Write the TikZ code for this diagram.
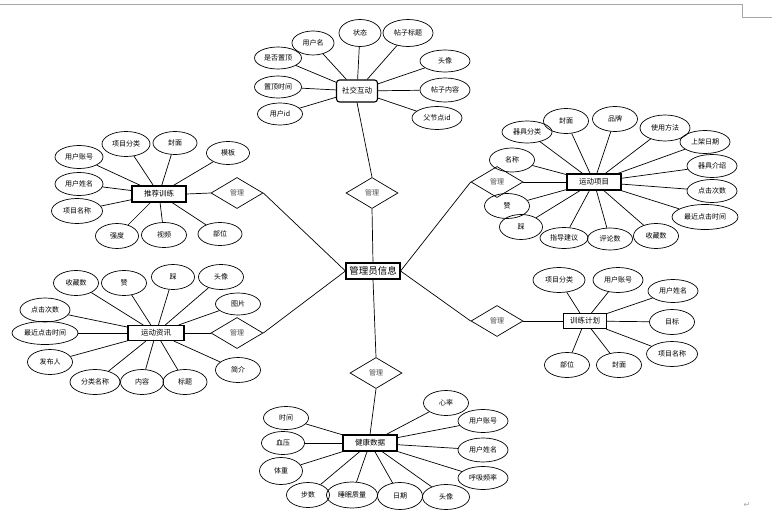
\documentclass[tikz,border=0pt]{standalone}
\usepackage{fontspec}
\setmainfont{Noto Sans CJK SC}
\newfontfamily\symfont{DejaVu Sans}
\usetikzlibrary{shapes.geometric}
\begin{document}
\begin{tikzpicture}[x=1pt,y=-1pt,
  attr/.style={ellipse, draw, line width=0.7pt, minimum width=45pt, minimum height=24pt, inner sep=0pt, font=\fontsize{7}{8}\selectfont},
  ent/.style={rectangle, draw, line width=1.1pt, minimum width=54pt, minimum height=16pt, inner sep=0pt, font=\fontsize{7.5}{8}\selectfont},
  rel/.style={diamond, draw, line width=0.7pt, minimum width=52pt, minimum height=31pt, inner sep=0pt, text=gray!60!black, font=\fontsize{7}{8}\selectfont},
  link/.style={line width=0.7pt},
  pagemark/.style={draw=gray!70, line width=0.8pt}]
\useasboundingbox (0,0) rectangle (782,511);
\fill[white] (0,0) rectangle (782,511);
% page marks
\coordinate (pm1) at (0,4);
\coordinate (pm2) at (742,4);
\coordinate (pm3) at (742,17);
\coordinate (pm4) at (772,17);
\draw[pagemark] (pm1) -- (pm2) -- (pm3) -- (pm4);
\node[text=gray!70, font=\symfont\fontsize{8}{9}\selectfont, inner sep=0pt] (ret) at (747,505) {↵};

% central
\node[ent, minimum width=54pt, minimum height=16pt, font=\fontsize{9.5}{10}\selectfont] (admin) at (373,271) {管理员信息};

% relationships
\node[rel] (d1) at (372,193) {管理};
\node[rel] (d2) at (237,193) {管理};
\node[rel] (d3) at (237,333) {管理};
\node[rel] (d4) at (497,182) {管理};
\node[rel] (d5) at (497,321) {管理};
\node[rel] (d6) at (376,373) {管理};

% entities
\node[ent, rounded corners=3pt, minimum width=41pt, minimum height=22pt] (sj) at (357,91) {社交互动};
\node[ent] (tj) at (159,194) {推荐训练};
\node[ent, minimum width=56pt, minimum height=15pt] (zx) at (156,333) {运动资讯};
\node[ent] (xm) at (594,182) {运动项目};
\node[ent, minimum width=43pt, minimum height=15pt] (jh) at (585,321) {训练计划};
\node[ent] (jk) at (370,443) {健康数据};

% relationship links
\draw[link] (d1.south) -- (admin.north);
\draw[link] (d2.east) -- (admin.west);
\draw[link] (d3.east) -- (admin.west);
\draw[link] (d4.west) -- (admin.east);
\draw[link] (d5.west) -- (admin.east);
\draw[link] (admin.south) -- (d6.north);
\draw[link] (sj.south) -- (d1.north);
\draw[link] (tj.east) -- (d2.west);
\draw[link] (zx.east) -- (d3.west);
\draw[link] (d4.east) -- (xm.west);
\draw[link] (d5.east) -- (jh.west);
\draw[link] (jk.north) -- (d6.south);

% 社交互动 attributes
\node[attr, minimum width=42pt] (s1) at (313,43) {用户名};
\node[attr, minimum width=42pt, minimum height=27pt] (s2) at (360,33) {状态};
\node[attr, minimum width=50pt, minimum height=27pt] (s3) at (408,33) {帖子标题};
\node[attr, minimum width=47pt, minimum height=22pt] (s4) at (278,58) {是否置顶};
\node[attr, minimum width=47pt, minimum height=22pt] (s5) at (278,87) {置顶时间};
\node[attr, minimum width=45pt, minimum height=22pt] (s6) at (280,114) {用户id};
\node[attr, minimum width=50pt, minimum height=22pt] (s7) at (445,61) {头像};
\node[attr, minimum width=50pt] (s8) at (445,90) {帖子内容};
\node[attr, minimum width=50pt, minimum height=23pt] (s9) at (437,118) {父节点id};
\foreach \n in {s1,s2,s3,s4,s5,s6,s7,s8,s9} \draw[link] (\n) -- (sj);

% 运动项目 attributes
\node[attr, minimum width=50pt, minimum height=22pt] (m1) at (527,132) {器具分类};
\node[attr, minimum height=25pt] (m2) at (566,121) {封面};
\node[attr, minimum height=25pt] (m3) at (615,119) {品牌};
\node[attr, minimum width=50pt, minimum height=26pt] (m4) at (665,128) {使用方法};
\node[attr, minimum width=50pt, minimum height=23pt] (m5) at (705,142) {上架日期};
\node[attr, minimum width=50pt, minimum height=23pt] (m6) at (712,166) {器具介绍};
\node[attr, minimum width=50pt, minimum height=23pt] (m7) at (712,191) {点击次数};
\node[attr, minimum width=66pt, minimum height=25pt] (m8) at (705,217) {最近点击时间};
\node[attr, minimum height=25pt] (m9) at (656,236) {收藏数};
\node[attr, minimum height=22pt] (m10) at (610,239) {评论数};
\node[attr, minimum width=48pt, minimum height=21pt] (m11) at (564,238) {指导建议};
\node[attr, minimum width=43pt, minimum height=25pt] (m12) at (521,227) {踩};
\node[attr, minimum height=25pt] (m13) at (507,206) {赞};
\node[attr] (m14) at (512,160) {名称};
\foreach \n in {m1,m2,m3,m4,m5,m6,m7,m8,m9,m10,m11,m12,m13,m14} \draw[link] (\n) -- (xm);

% 推荐训练 attributes
\node[attr, minimum width=48pt, minimum height=25pt] (t1) at (126,144) {项目分类};
\node[attr, minimum width=44pt, minimum height=23pt] (t2) at (175,143) {封面};
\node[attr, minimum width=43pt, minimum height=23pt] (t3) at (228,153) {模板};
\node[attr, minimum width=48pt, minimum height=23pt] (t4) at (79,157) {用户账号};
\node[attr, minimum width=48pt, minimum height=23pt] (t5) at (79,184) {用户姓名};
\node[attr, minimum width=51pt, minimum height=25pt] (t6) at (77,211) {项目名称};
\node[attr, minimum width=43pt, minimum height=25pt] (t7) at (117,236) {强度};
\node[attr, minimum height=25pt] (t8) at (164,235) {视频};
\node[attr, minimum width=44pt, minimum height=23pt] (t9) at (220,234) {部位};
\foreach \n in {t1,t2,t3,t4,t5,t6,t7,t8,t9} \draw[link] (\n) -- (tj);

% 运动资讯 attributes
\node[attr, minimum height=25pt] (z1) at (76,283) {收藏数};
\node[attr, minimum height=25pt] (z2) at (124,283) {赞};
\node[attr, minimum width=43pt, minimum height=25pt] (z3) at (173,277) {踩};
\node[attr, minimum height=25pt] (z4) at (221,277) {头像};
\node[attr, minimum height=22pt] (z5) at (238,304) {图片};
\node[attr, minimum width=50pt] (z6) at (45,310) {点击次数};
\node[attr, minimum width=66pt, minimum height=23pt] (z7) at (45,333) {最近点击时间};
\node[attr, minimum height=25pt] (z8) at (50,362) {发布人};
\node[attr, minimum height=25pt] (z9) at (238,370) {简介};
\node[attr, minimum width=50pt, minimum height=25pt] (z10) at (95,382) {分类名称};
\node[attr, minimum width=43pt, minimum height=25pt] (z11) at (142,382) {内容};
\node[attr, minimum width=44pt, minimum height=25pt] (z12) at (185,382) {标题};
\foreach \n in {z1,z2,z3,z4,z5,z6,z7,z8,z9,z10,z11,z12} \draw[link] (\n) -- (zx);

% 训练计划 attributes
\node[attr, minimum width=52pt, minimum height=25pt] (p1) at (559,280) {项目分类};
\node[attr, minimum width=50pt, minimum height=25pt] (p2) at (618,280) {用户账号};
\node[attr, minimum width=50pt, minimum height=23pt] (p3) at (673,291) {用户姓名};
\node[attr, minimum height=25pt] (p4) at (672,322) {目标};
\node[attr, minimum width=51pt, minimum height=25pt] (p5) at (672,354) {项目名称};
\node[attr, minimum height=25pt] (p6) at (567,365) {部位};
\node[attr, minimum height=25pt] (p7) at (619,365) {封面};
\foreach \n in {p1,p2,p3,p4,p5,p6,p7} \draw[link] (\n) -- (jh);

% 健康数据 attributes
\node[attr, minimum height=23pt] (h1) at (286,418) {时间};
\node[attr, minimum width=43pt, minimum height=23pt] (h2) at (283,443) {血压};
\node[attr, minimum width=43pt, minimum height=27pt] (h3) at (281,471) {体重};
\node[attr, minimum width=43pt, minimum height=25pt] (h4) at (308,495) {步数};
\node[attr, minimum width=51pt, minimum height=26pt] (h5) at (352,495) {睡眠质量};
\node[attr, minimum height=27pt] (h6) at (400,496) {日期};
\node[attr, minimum width=47pt, minimum height=25pt] (h7) at (446,497) {头像};
\node[attr, minimum width=50pt, minimum height=23pt] (h8) at (483,478) {呼吸频率};
\node[attr, minimum width=50pt, minimum height=24pt] (h9) at (483,450) {用户姓名};
\node[attr, minimum width=50pt, minimum height=23pt] (h10) at (483,421) {用户账号};
\node[attr, minimum height=25pt] (h11) at (446,403) {心率};
\foreach \n in {h1,h2,h3,h4,h5,h6,h7,h8,h9,h10,h11} \draw[link] (\n) -- (jk);
\end{tikzpicture}
\end{document}
